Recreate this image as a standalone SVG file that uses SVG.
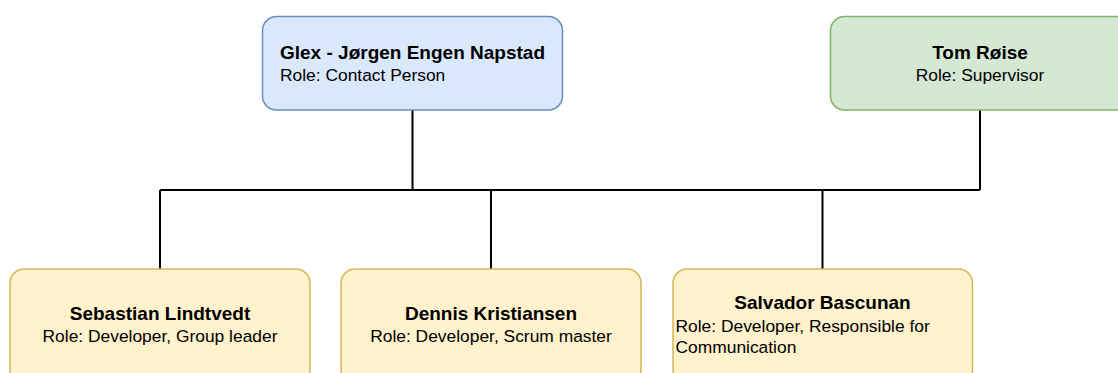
<svg xmlns="http://www.w3.org/2000/svg" width="1118" height="373" viewBox="0 0 1118 373">
  <style>
    .box { stroke-width: 1.5; }
    .blue { fill: #dae8fc; stroke: #6c8ebf; }
    .green { fill: #d5e8d4; stroke: #82b366; }
    .yellow { fill: #fff2cc; stroke: #d6b656; }
    text { font-family: "Liberation Sans", Arial, sans-serif; fill: #000; }
    .name { font-size: 19px; font-weight: bold; }
    .role { font-size: 17.4px; }
    .link { fill: none; stroke: #000; stroke-width: 2; }
  </style>
  <rect width="1118" height="373" fill="#fff"/>

  <!-- connectors -->
  <g id="connectors">
    <path class="link" d="M412.5 110 V190"/>
    <path class="link" d="M980 110 V190"/>
    <path class="link" d="M160 190 H980"/>
    <path class="link" d="M160 190 V269"/>
    <path class="link" d="M491 190 V269"/>
    <path class="link" d="M822.5 190 V269"/>
  </g>

  <!-- top row -->
  <g id="glex">
    <rect class="box blue" x="262.5" y="16.5" width="300" height="93.5" rx="14"/>
    <text class="name" x="280" y="59">Glex - Jørgen Engen Napstad</text>
    <text class="role" x="280" y="81">Role: Contact Person</text>
  </g>
  <g id="tom">
    <rect class="box green" x="830.5" y="16.5" width="300" height="93.5" rx="14"/>
    <text class="name" x="980" y="59" text-anchor="middle">Tom Røise</text>
    <text class="role" x="980" y="81" text-anchor="middle">Role: Supervisor</text>
  </g>

  <!-- bottom row -->
  <g id="sebastian">
    <rect class="box yellow" x="10" y="269" width="300" height="115" rx="14"/>
    <text class="name" x="160" y="320" text-anchor="middle">Sebastian Lindtvedt</text>
    <text class="role" x="160" y="342" text-anchor="middle">Role: Developer, Group leader</text>
  </g>
  <g id="dennis">
    <rect class="box yellow" x="341" y="269" width="300" height="115" rx="14"/>
    <text class="name" x="491" y="320" text-anchor="middle">Dennis Kristiansen</text>
    <text class="role" x="491" y="342" text-anchor="middle">Role: Developer, Scrum master</text>
  </g>
  <g id="salvador">
    <rect class="box yellow" x="673" y="269" width="299.5" height="115" rx="14"/>
    <text class="name" x="822.5" y="309" text-anchor="middle">Salvador Bascunan</text>
    <text class="role" x="675.5" y="332">Role: Developer, Responsible for</text>
    <text class="role" x="675.5" y="353">Communication</text>
  </g>
</svg>
